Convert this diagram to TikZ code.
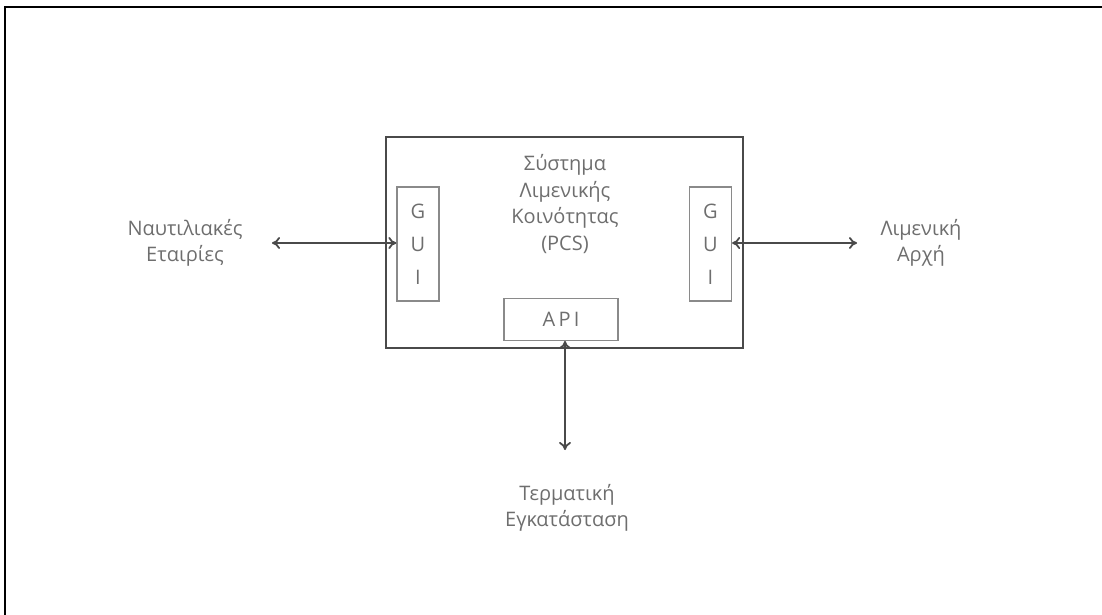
\documentclass[tikz,border=0pt]{standalone}
\usepackage{fontspec}
\setmainfont{Open Sans}
\usetikzlibrary{arrows.meta}
\definecolor{txtgray}{HTML}{6E6E6E}
\definecolor{linegray}{HTML}{4A4A4A}
\definecolor{boxgray}{HTML}{8A8A8A}
\tikzset{
  lbl/.style={text=txtgray, align=center, font=\fontsize{10}{13.2}\selectfont},
  mainbox/.style={draw=linegray, line width=1pt, minimum width=178.5pt, minimum height=105.5pt, inner sep=0pt},
  guibox/.style={draw=boxgray, line width=0.6pt, minimum width=21pt, minimum height=57pt, inner sep=0pt, lbl, font=\fontsize{10}{16.5}\selectfont},
  apibox/.style={draw=boxgray, line width=0.6pt, minimum width=57pt, minimum height=21pt, inner sep=0pt, lbl},
  link/.style={draw=linegray, line width=0.9pt, {To[length=4pt,width=6pt]}-{To[length=4pt,width=6pt]}}
}
\begin{document}
\begin{tikzpicture}[x=0.5pt,y=-0.5pt]
\useasboundingbox (0,0) rectangle (1102,615);
% outer frame
\draw[black, line width=1pt] (4.5,615) -- (4.5,7.5) -- (1102,7.5);

% the PCS box and its parts
\node[mainbox] (pcs) at (564.5,242.5) {};
\node[lbl] (title) at (565,204) {Σύστημα\\Λιμενικής\\Κοινότητας\\(PCS)};
\node[guibox] (guiL) at (418,244) {G\\U\\I};
\node[guibox] (guiR) at (710.5,244) {G\\U\\I};
\node[apibox] (api) at (561,319.5) {A\,P\,I};

% outside parties
\node[lbl] (ships) at (185,243) {Ναυτιλιακές\\Εταιρίες};
\node[lbl] (port) at (921,243) {Λιμενική\\Αρχή};
\node[lbl] (term) at (567,508) {Τερματική\\Εγκατάσταση};

\coordinate (shipsEnd) at (272,243);
\coordinate (portEnd) at (857,243);
\coordinate (apiEnd) at (565,341);
\coordinate (termEnd) at (565,450);

\draw[link] (shipsEnd) -- (guiL.west |- shipsEnd);
\draw[link] (guiR.east |- portEnd) -- (portEnd);
\draw[link] (apiEnd) -- (termEnd);
\end{tikzpicture}
\end{document}
